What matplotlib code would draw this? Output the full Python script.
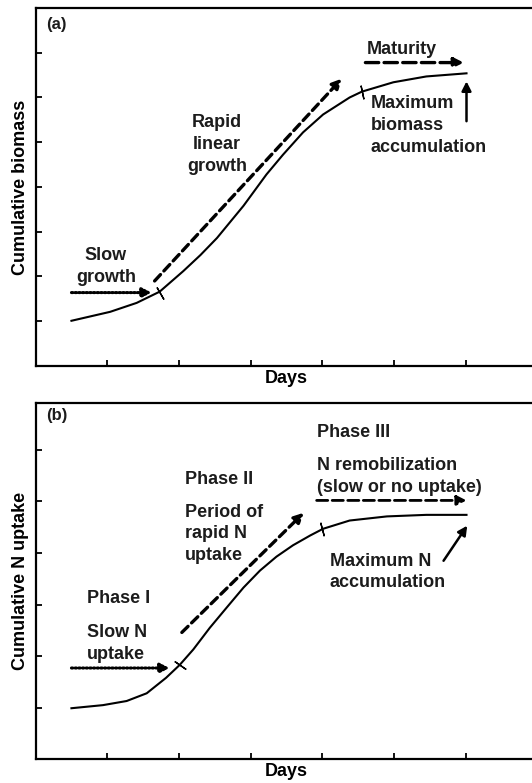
import matplotlib
matplotlib.use("Agg")
import matplotlib.pyplot as plt

plt.rcParams["font.family"] = ["Liberation Sans", "DejaVu Sans"]
plt.rcParams["font.weight"] = "bold"

# (a) cumulative biomass curve
biomass_days = [0.50, 1.04, 1.41, 1.73, 2.06, 2.30, 2.53, 2.90, 3.22, 3.45,
                3.73, 4.01, 4.38, 4.55, 4.99, 5.45, 6.01]
biomass = [1.01, 1.21, 1.41, 1.66, 2.12, 2.48, 2.86, 3.58, 4.28, 4.72,
           5.22, 5.62, 6.00, 6.13, 6.34, 6.47, 6.54]
biomass_breaks_x = [1.73, 4.55]
biomass_breaks_y = [1.64, 6.13]

# (b) cumulative N uptake curve
n_days = [0.50, 0.94, 1.27, 1.55, 1.82, 2.01, 2.20, 2.43, 2.67, 2.90, 3.13,
          3.36, 3.59, 3.83, 4.01, 4.38, 4.90, 5.45, 6.01]
n_uptake = [0.99, 1.05, 1.13, 1.28, 1.58, 1.83, 2.13, 2.55, 2.95, 3.33, 3.66,
            3.93, 4.15, 4.34, 4.47, 4.63, 4.71, 4.74, 4.74]
n_breaks_x = [2.01, 4.00]
n_breaks_y = [1.83, 4.47]

# arrows: (x0, y0, x1, y1)
a_slow = (0.50, 1.64, 1.62, 1.64)
a_rapid = (1.66, 1.90, 4.27, 6.42)
a_maturity = (4.60, 6.78, 5.97, 6.78)
a_max = (6.01, 5.47, 6.01, 6.36)

b_slow = (0.50, 1.77, 1.87, 1.77)
b_rapid = (2.04, 2.46, 3.74, 4.78)
b_remob = (3.92, 5.02, 6.01, 5.02)
b_max = (5.69, 3.85, 6.02, 4.53)

x_ticks = [1, 2, 3, 4, 5, 6]
biomass_ticks = [1, 2, 3, 4, 5, 6, 7]
n_ticks = [1, 2, 3, 4, 5, 6]

TXT = "#1c1c1c"
FS = 13
LS = 1.36
DOTTED = (0, (0.45, 0.75))


def arrow(ax, seg, style, lw=2.2, hl=0.55, hw=0.28):
    x0, y0, x1, y1 = seg
    ax.annotate("", xy=(x1, y1), xytext=(x0, y0),
                arrowprops=dict(arrowstyle=f"-|>,head_length={hl},head_width={hw}",
                                lw=lw, linestyle=style, color="black",
                                shrinkA=0, shrinkB=0))


def setup(ax, ylim, yticks, ylabel):
    ax.set_xlim(0, 7)
    ax.set_ylim(*ylim)
    ax.set_xticks(x_ticks)
    ax.set_yticks(yticks)
    ax.tick_params(direction="in", length=4.5, width=1.3,
                   labelbottom=False, labelleft=False)
    for s in ax.spines.values():
        s.set_linewidth(1.6)
    ax.set_xlabel("Days", fontsize=FS, fontweight="bold", labelpad=3)
    ax.set_ylabel(ylabel, fontsize=FS, fontweight="bold", labelpad=5)


def label(ax, x, y, s, **kw):
    kw.setdefault("va", "center")
    ax.text(x, y, s, fontsize=FS, color=TXT, linespacing=LS, **kw)


fig = plt.figure(figsize=(5.32, 7.83), dpi=100)
ax1 = fig.add_axes([0.0669, 0.5326, 0.9434, 0.4572])
ax2 = fig.add_axes([0.0669, 0.0303, 0.9434, 0.4544])

# ---- panel (a)
setup(ax1, (0, 8), biomass_ticks, "Cumulative biomass")
ax1.plot(biomass_days, biomass, color="black", lw=1.5)
ax1.plot(biomass_breaks_x[:1], biomass_breaks_y[:1], ls="none",
         marker=(2, 2, 30), ms=10, mew=1.0, color="black")
ax1.plot(biomass_breaks_x[1:], biomass_breaks_y[1:], ls="none",
         marker=(2, 2, 12), ms=10, mew=1.0, color="black")
arrow(ax1, a_slow, DOTTED, lw=2.2)
arrow(ax1, a_rapid, (0, (2.6, 1.5)), lw=2.4)
arrow(ax1, a_maturity, (0, (4.0, 1.6)), lw=2.4)
arrow(ax1, a_max, "-", lw=1.8)

ax1.text(0.14, 7.62, "(a)", fontsize=12, color=TXT, va="center")
label(ax1, 5.11, 7.08, "Maturity", ha="center")
label(ax1, 4.67, 5.37, "Maximum\nbiomass\naccumulation", ha="left")
label(ax1, 2.53, 4.95, "Rapid\nlinear\ngrowth", ha="center")
label(ax1, 0.98, 2.22, "Slow\ngrowth", ha="center")

# ---- panel (b)
setup(ax2, (0, 6.9), n_ticks, "Cumulative N uptake")
ax2.plot(n_days, n_uptake, color="black", lw=1.5)
ax2.plot(n_breaks_x[:1], n_breaks_y[:1], ls="none",
         marker=(2, 2, 55), ms=10, mew=1.0, color="black")
ax2.plot(n_breaks_x[1:], n_breaks_y[1:], ls="none",
         marker=(2, 2, 15), ms=10, mew=1.0, color="black")
arrow(ax2, b_slow, DOTTED, lw=2.2)
arrow(ax2, b_rapid, (0, (2.6, 1.5)), lw=2.4)
arrow(ax2, b_remob, (0, (4.0, 1.6)), lw=2.0)
arrow(ax2, b_max, "-", lw=1.8)

ax2.text(0.14, 6.67, "(b)", fontsize=12, color=TXT, va="center")
label(ax2, 3.93, 6.33, "Phase III")
label(ax2, 3.93, 5.49, "N remobilization\n(slow or no uptake)")
label(ax2, 2.08, 5.43, "Phase II")
label(ax2, 2.08, 4.37, "Period of\nrapid N\nuptake")
label(ax2, 4.10, 3.63, "Maximum N\naccumulation")
label(ax2, 0.72, 3.11, "Phase I")
label(ax2, 0.72, 2.24, "Slow N\nuptake")

fig.savefig("out.png", dpi=100)
